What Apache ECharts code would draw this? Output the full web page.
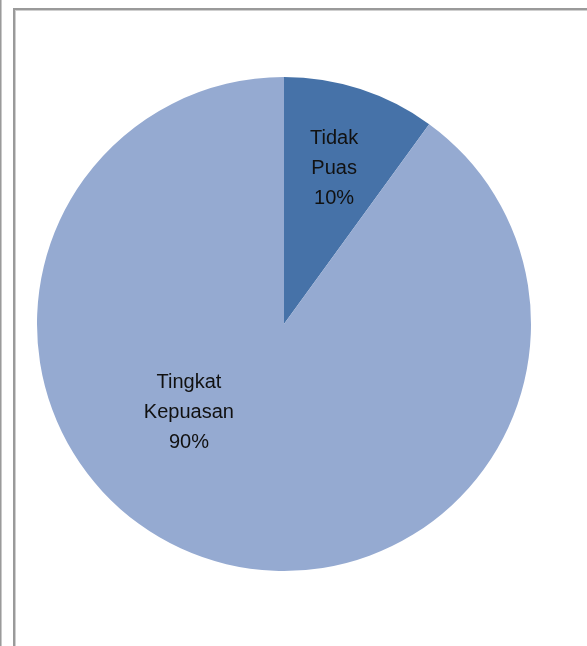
<!DOCTYPE html>
<html>
<head>
<meta charset="utf-8">
<script src="https://cdn.jsdelivr.net/npm/echarts@6/dist/echarts.min.js"></script>
<style>
  html, body { margin: 0; padding: 0; background: #fff; }
  .edge { position: absolute; left: 0; top: 0; width: 1px; height: 646px; background: #9a9a9a; border-right: 1px solid #c8c8c8; }
  .frame { position: absolute; left: 13px; top: 8px; width: 574px; height: 638px; border-left: 2px solid #9a9a9a; border-top: 2px solid #9a9a9a; box-shadow: inset 1px 1px 0 #cfcfcf; }
  #chart { position: absolute; left: 0; top: 0; width: 587px; height: 646px; }
</style>
</head>
<body>
<div class="edge"></div>
<div class="frame"></div>
<div id="chart"></div>
<script>
// 数据
const categories = ['Tidak\nPuas', 'Tingkat\nKepuasan'];
const values = [10, 90];
const colors = ['#4672a8', '#95aad1'];
// 标签偏移（相对于默认 inside 位置）
const labelOffsets = [[11, -35], [-56, -32]];

const myChart = echarts.init(document.getElementById('chart'), null, { renderer: 'canvas' });

const option = {
  animation: false,
  series: [{
    type: 'pie',
    center: [284, 324],
    radius: 247,
    startAngle: 90,
    clockwise: true,
    silent: true,
    label: {
      show: true,
      position: 'inside',
      formatter: p => p.name + '\n' + p.value + '%',
      color: '#111',
      fontFamily: 'Liberation Sans, Arial, sans-serif',
      fontSize: 20,
      lineHeight: 30
    },
    labelLine: { show: false },
    itemStyle: { borderWidth: 0 },
    data: categories.map((name, i) => ({
      name,
      value: values[i],
      itemStyle: { color: colors[i] },
      label: { offset: labelOffsets[i] }
    }))
  }]
};

myChart.setOption(option);
</script>
</body>
</html>
